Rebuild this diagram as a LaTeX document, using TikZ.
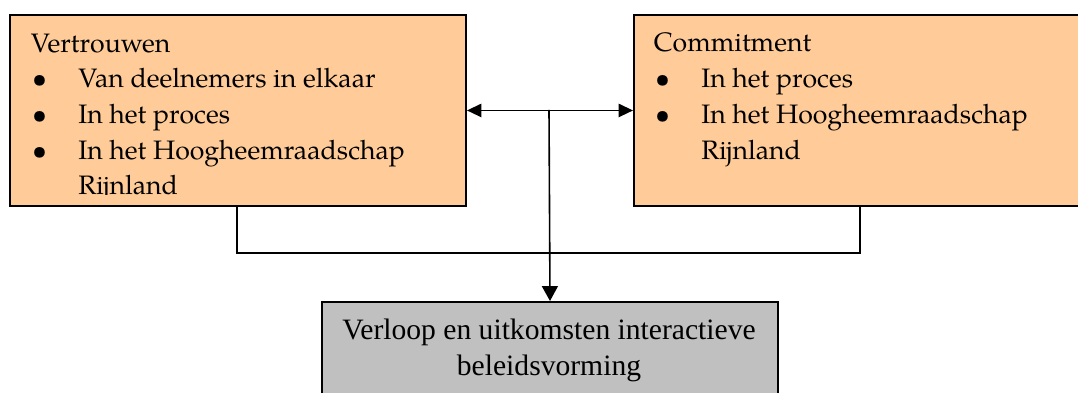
\documentclass[tikz,border=0pt]{standalone}
\usepackage{fontspec}
\setmainfont{TeX Gyre Pagella}
\newfontfamily\timesfont{Liberation Serif}
\usetikzlibrary{arrows.meta,positioning}

\definecolor{lightorange}{HTML}{FFCC99}
\definecolor{boxgrey}{HTML}{C0C0C0}

\tikzset{
  factor/.style={draw, line width=0.75pt, fill=lightorange, anchor=north west,
    minimum width=171pt, minimum height=71.6pt, inner sep=0pt},
  result/.style={draw, line width=0.75pt, fill=boxgrey, anchor=north west,
    minimum width=171pt, minimum height=45pt, inner sep=0pt},
  boxtext/.style={anchor=base west, align=left, inner sep=0pt,
    font=\fontsize{10}{13.4}\selectfont},
}
\newcommand{\itembul}{\makebox[17.8pt][l]{\hspace{0.5pt}\textbullet}}
\newcommand{\itemgap}{\hspace*{17.8pt}}

\begin{document}
\begin{tikzpicture}[x=0.375pt, y=-0.375pt, line width=0.6pt,
    >={Triangle[length=5.4pt,width=5pt]}]
  \clip (0,0) rectangle (1078,393);

  % Boxes
  \node [factor] (trust) at (9,14) {};
  \node [factor, minimum width=190pt] (commit) at (633,14) {};
  \node [result] (outcome) at (321,301) {};

  % Texts in the boxes (base = last line)
  \begin{scope}
    \clip (9,14) rectangle (465,195);
    \node [boxtext] (trusttext) at (30,195) {Vertrouwen\\
      \itembul Van deelnemers in elkaar\\
      \itembul In het proces\\
      \itembul In het Hoogheemraadschap\\
      \itemgap Rijnland};
  \end{scope}
  \node [boxtext] (committext) at (653,159.2) {Commitment\\
    \itembul In het proces\\
    \itembul In het Hoogheemraadschap\\
    \itemgap Rijnland};
  \node [anchor=base, align=center, inner sep=0pt,
    font=\timesfont\fontsize{11.1}{13.5}\selectfont] (outcometext) at (549,376)
    {Verloop en uitkomsten interactieve\\ beleidsvorming};

  % Arrows
  \coordinate (split) at (549,110);
  \coordinate (leftleg) at (237,253);
  \coordinate (rightleg) at (860,253);
  \draw [<->] (trust) -- (commit);
  \draw [->, >={Triangle[length=5.6pt,width=6pt]}] (split) -- (outcome.north);
  \draw (trust.south -| leftleg) -- (leftleg) -- (rightleg) -- (commit.south -| rightleg);
\end{tikzpicture}
\end{document}
